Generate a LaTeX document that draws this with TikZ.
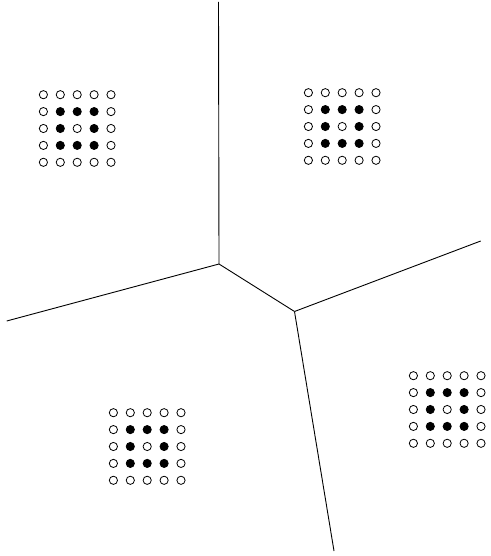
\documentclass[tikz,border=0pt]{standalone}
\begin{document}
\begin{tikzpicture}[x=1pt,y=-1pt,
  edge/.style={line width=0.9pt,black},
  dotopen/.style={circle,draw=black,line width=0.8pt,fill=white,minimum size=8.2pt,inner sep=0pt},
  dotfull/.style={circle,draw=black,line width=0.8pt,fill=black,minimum size=8.2pt,inner sep=0pt}]
\useasboundingbox (0,0) rectangle (490,556);
% vertices and free ends
\coordinate (A) at (219,264);
\coordinate (B) at (294.5,311.5);
\coordinate (T) at (218.5,2);
\coordinate (L) at (6.7,321);
\coordinate (R) at (480.7,241);
\coordinate (D) at (334,551);
\draw[edge] (T) -- (A);
\draw[edge] (L) -- (A);
\draw[edge] (A) -- (B);
\draw[edge] (B) -- (R);
\draw[edge] (B) -- (D);
% grids
\foreach \cx/\cy/\g in {77.2/128.5/g1, 342.2/126.5/g2, 147.2/446.5/g3, 447.2/409.5/g4}{
  \foreach \i in {-2,...,2}{
    \foreach \j in {-2,...,2}{
      \pgfmathtruncatemacro{\ai}{abs(\i)}
      \pgfmathtruncatemacro{\aj}{abs(\j)}
      \pgfmathtruncatemacro{\full}{(\ai==2 || \aj==2 || (\ai==0 && \aj==0)) ? 0 : 1}
      \ifnum\full=1
        \node[dotfull] (\g-\i-\j) at (\cx+16.9*\i,\cy+16.9*\j) {};
      \else
        \node[dotopen] (\g-\i-\j) at (\cx+16.9*\i,\cy+16.9*\j) {};
      \fi
    }
  }
}
\end{tikzpicture}
\end{document}
